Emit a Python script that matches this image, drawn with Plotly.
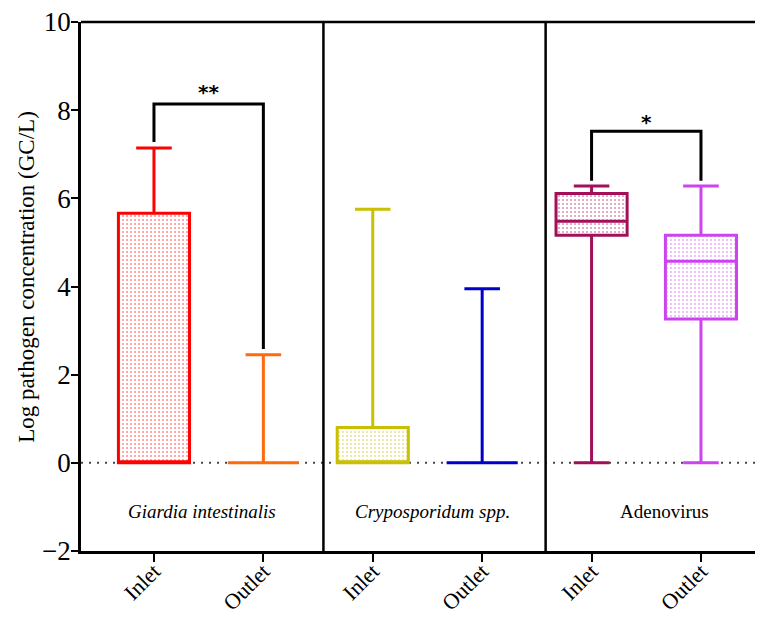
import plotly.graph_objects as go

# ---- data ----
categories = ["Inlet", "Outlet", "Inlet", "Outlet", "Inlet", "Outlet"]
positions = [0, 1, 2, 3, 4, 5]
lower = [0.0, 0.0, 0.0, 0.0, 0.0, 0.0]
q1 = [0.0, 0.0, 0.0, 0.0, 5.16, 3.26]
median = [0.0, 0.0, 0.0, 0.0, 5.48, 4.57]
q3 = [5.66, 0.0, 0.80, 0.0, 6.11, 5.16]
upper = [7.14, 2.45, 5.75, 3.95, 6.28, 6.28]
colors = ["#ff0000", "#ff6a0d", "#c8c000", "#0000cc", "#a3105a", "#cc44f0"]

groups = ["<i>Giardia intestinalis</i>", "<i>Cryposporidum spp.</i>", "Adenovirus"]
group_label_x = [0.44, 2.55, 4.67]
group_label_y = -1.1
separators = [1.549, 3.58]

bracket1_x = [0, 0, 1, 1]
bracket1_y = [7.28, 8.14, 8.14, 2.58]
bracket2_x = [4, 4, 5, 5]
bracket2_y = [6.40, 7.52, 7.52, 6.40]
stars = ["**", "*"]
stars_x = [0.5, 4.5]
stars_y = [8.42, 7.74]

yticks = [-2, 0, 2, 4, 6, 8, 10]
ytitle = "Log pathogen concentration (GC/L)"

FONT = "Liberation Serif"
BOXW = 0.65

fig = go.Figure()

# patterned fills
for i in range(len(positions)):
    h = q3[i] - q1[i]
    if h > 0:
        fig.add_trace(go.Bar(
            x=[positions[i]], y=[h], base=[q1[i]], width=BOXW,
            marker=dict(color="white", line=dict(width=0),
                        pattern=dict(shape=".", fgcolor=colors[i], bgcolor="white",
                                     size=4, solidity=0.2, fgopacity=0.45)),
            showlegend=False, hoverinfo="skip"))

# boxes
for i in range(len(positions)):
    fig.add_trace(go.Box(
        x=[positions[i]], q1=[q1[i]], median=[median[i]], q3=[q3[i]],
        lowerfence=[lower[i]], upperfence=[upper[i]],
        width=BOXW, whiskerwidth=0.5,
        line=dict(color=colors[i], width=3),
        fillcolor="rgba(0,0,0,0)", showlegend=False, boxpoints=False))

# significance brackets
for bx, by in [(bracket1_x, bracket1_y), (bracket2_x, bracket2_y)]:
    fig.add_trace(go.Scatter(x=bx, y=by, mode="lines",
                             line=dict(color="black", width=3),
                             showlegend=False, hoverinfo="skip"))

for s, sx, sy in zip(stars, stars_x, stars_y):
    fig.add_annotation(x=sx, y=sy, text="<b>" + s + "</b>", showarrow=False,
                       font=dict(family="DejaVu Sans", size=20, color="black"))

for g, gx in zip(groups, group_label_x):
    fig.add_annotation(x=gx, y=group_label_y, text=g, showarrow=False,
                       font=dict(family=FONT, size=19, color="black"))

# y-axis title
fig.add_annotation(xref="paper", x=0, xshift=-54, xanchor="center",
                   yref="y", y=4.2, yanchor="middle", text=ytitle,
                   textangle=-90, showarrow=False,
                   font=dict(family=FONT, size=23, color="black"))

# dotted zero line
fig.add_shape(type="line", xref="paper", x0=0, x1=1, yref="y", y0=0, y1=0,
              line=dict(color="#444444", width=2, dash="2px,6px"), layer="below")
# separators
for sx in separators:
    fig.add_shape(type="line", xref="x", x0=sx, x1=sx, yref="y", y0=-2, y1=10,
                  line=dict(color="black", width=2.5))
# top frame
fig.add_shape(type="line", xref="paper", x0=0, x1=1, yref="paper", y0=1, y1=1,
              line=dict(color="black", width=2.5))

fig.update_layout(
    width=755, height=611,
    margin=dict(l=73, r=0, t=14, b=68, autoexpand=False),
    plot_bgcolor="white", paper_bgcolor="white",
    barmode="overlay", boxmode="overlay",
    font=dict(family=FONT, color="black"),
    xaxis=dict(range=[-0.667, 5.567], tickvals=positions, ticktext=categories,
               tickangle=-45, tickfont=dict(family=FONT, size=22),
               showline=True, linecolor="black", linewidth=2.5,
               ticks="outside", ticklen=8, tickwidth=2, tickcolor="black",
               ticklabelstandoff=-12, ticklabeloverflow="allow",
               showgrid=False, zeroline=False, automargin=False),
    yaxis=dict(range=[-2, 10], tickvals=yticks,
               tickfont=dict(family=FONT, size=27),
               showline=True, linecolor="black", linewidth=2.5,
               ticks="outside", ticklen=7, tickwidth=2, tickcolor="black",
               ticklabelstandoff=-5, ticklabeloverflow="allow",
               showgrid=False, zeroline=False, automargin=False),
)

fig.write_html("out.html")
